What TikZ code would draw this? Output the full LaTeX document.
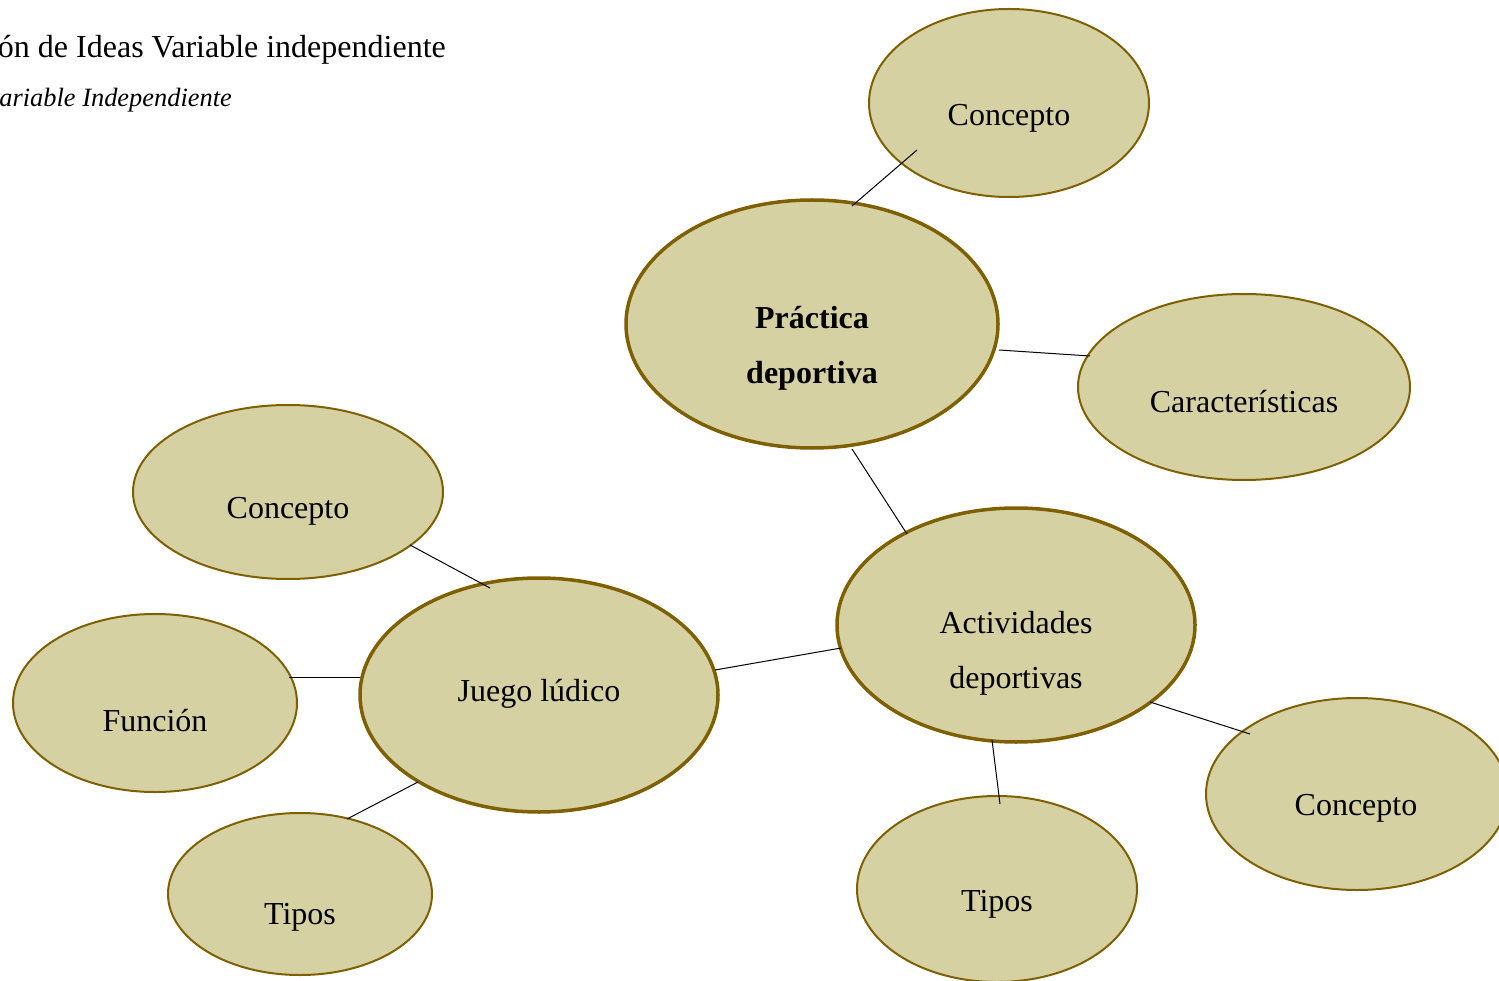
\documentclass[tikz,border=0pt]{standalone}
\usepackage{fontspec}
\setmainfont{Liberation Serif}
\usetikzlibrary{shapes.geometric}
\definecolor{blobfill}{RGB}{214,209,163}
\definecolor{blobline}{RGB}{127,96,0}
\tikzset{
  blob/.style={ellipse, draw=blobline, fill=blobfill, line width=2pt, inner sep=0pt},
  bigblob/.style={blob, line width=3.5pt},
  lbl/.style={font=\fontsize{32}{55}\selectfont, align=center, inner sep=0pt},
  conn/.style={draw=black, line width=1pt}
}
\begin{document}
\begin{tikzpicture}[x=1pt,y=-1pt]
\useasboundingbox (0,0) rectangle (1499,981);
\clip (0,0) rectangle (1499,981);
% title
\node[font=\fontsize{32}{36}\selectfont, anchor=base east, inner sep=0pt] (title) at (446,58) {ón de Ideas Variable independiente};
\node[font=\fontsize{26.4}{30}\itshape\selectfont, anchor=base east, inner sep=0pt] (subtitle) at (232,107) {ariable Independiente};
% ellipses
\node[bigblob, minimum width=372pt, minimum height=248pt] (pd) at (812,324) {};
\node[blob, minimum width=280pt, minimum height=188pt] (c1) at (1009,103) {};
\node[blob, minimum width=332pt, minimum height=186pt] (car) at (1244,387) {};
\node[bigblob, minimum width=358pt, minimum height=234pt] (ad) at (1016,625) {};
\node[blob, minimum width=302pt, minimum height=192pt] (c2) at (1357,794) {};
\node[blob, minimum width=280pt, minimum height=186pt] (t2) at (997,889) {};
\node[bigblob, minimum width=358pt, minimum height=234pt] (jl) at (539,695) {};
\node[blob, minimum width=310pt, minimum height=174pt] (c3) at (288,492) {};
\node[blob, minimum width=284pt, minimum height=178pt] (fn) at (155,703) {};
\node[blob, minimum width=264pt, minimum height=162pt] (t1) at (300,894) {};
% labels
\node[lbl, font=\fontsize{32}{55}\bfseries\selectfont] (pdl) at (812,348) {Práctica\\deportiva};
\node[lbl] (c1l) at (1009,118) {Concepto};
\node[lbl] (carl) at (1244,402) {Características};
\node[lbl] (adl) at (1016,653) {Actividades\\deportivas};
\node[lbl] (c2l) at (1356,808) {Concepto};
\node[lbl] (t2l) at (997,904) {Tipos};
\node[lbl] (jll) at (539,694) {Juego lúdico};
\node[lbl] (c3l) at (288,511) {Concepto};
\node[lbl] (fnl) at (155,721) {Función};
\node[lbl] (t1l) at (300,917) {Tipos};
% connector end points
\coordinate (a1) at (852,206); \coordinate (a2) at (917,150);
\coordinate (b1) at (999,350); \coordinate (b2) at (1090,356);
\coordinate (e1) at (852,449); \coordinate (e2) at (907,534);
\coordinate (f1) at (715,670); \coordinate (f2) at (841,648);
\coordinate (g1) at (1150,702); \coordinate (g2) at (1250,734);
\coordinate (h1) at (992,740); \coordinate (h2) at (1000,804);
\coordinate (i1) at (410,545); \coordinate (i2) at (490,588);
\coordinate (j1) at (289,677); \coordinate (j2) at (360,677);
\coordinate (k1) at (347,819); \coordinate (k2) at (418,782);
\draw[conn] (a1) -- (a2);
\draw[conn] (b1) -- (b2);
\draw[conn] (e1) -- (e2);
\draw[conn] (f1) -- (f2);
\draw[conn] (g1) -- (g2);
\draw[conn] (h1) -- (h2);
\draw[conn] (i1) -- (i2);
\draw[conn] (j1) -- (j2);
\draw[conn] (k1) -- (k2);
\end{tikzpicture}
\end{document}
